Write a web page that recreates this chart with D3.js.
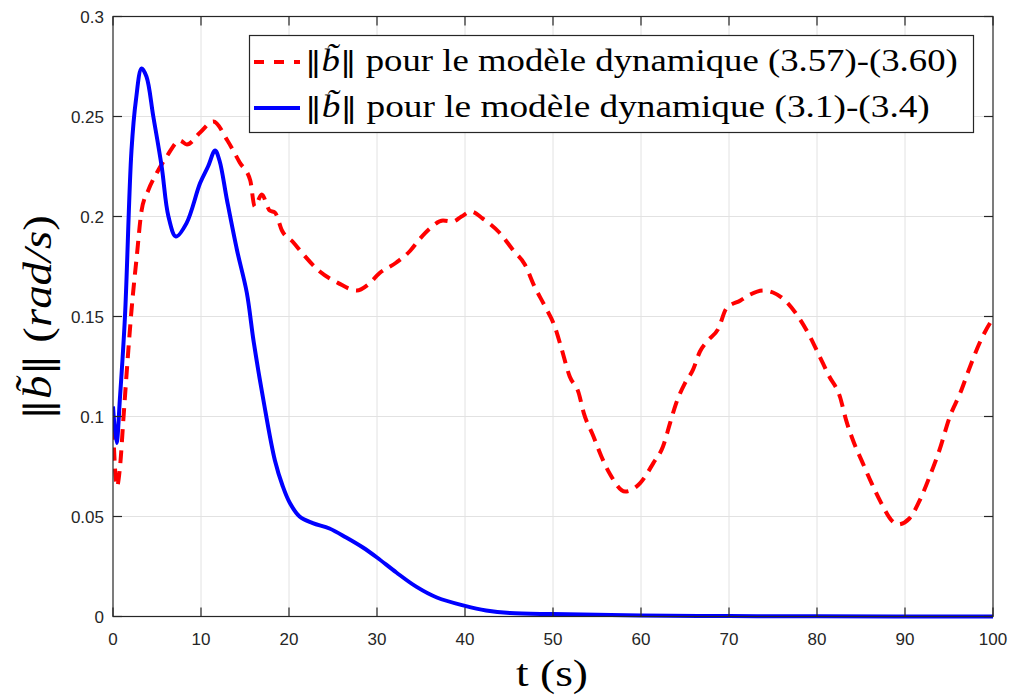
<!DOCTYPE html>
<html>
<head>
<meta charset="utf-8">
<script src="https://cdn.jsdelivr.net/npm/d3@7"></script>
<style>
  html, body { margin: 0; padding: 0; background: #fff; }
  svg { display: block; }
  .serif { font-family: "Liberation Serif"; }
  .bars { font-family: "DejaVu Serif"; }
</style>
</head>
<body>
<svg id="chart" width="1013" height="695"></svg>
<script>
// Error norm ||b~|| over time for the two dynamic models
const tRed = [0, 0.45, 0.8, 1.2, 1.74, 2.1, 2.7, 3.25, 4, 5, 6.1, 7.6, 8.4, 9.9, 11.4, 13, 14.4, 15.6, 16.1, 16.9, 17.8, 18.4, 19.2, 20.5, 21.5, 23.5, 25.6, 27.7, 29, 30.3, 32.2, 33.8, 34.9, 36, 37.5, 38.6, 39.6, 40.7, 42, 43.9, 45.5, 46.8, 47.9, 49.1, 50.2, 50.9, 51.9, 52.9, 53.5, 54.6, 55.5, 56.5, 58.2, 59.9, 61.4, 62.5, 63.3, 64, 65, 65.9, 66.7, 67.6, 68.8, 69.7, 71.3, 72.4, 73.9, 75, 76.5, 78, 79.2, 80.3, 81.4, 82.6, 83.3, 84.1, 85.2, 86.2, 87.3, 88.6, 89.2, 90.5, 91.7, 92.8, 93.9, 95.1, 96.3, 97.4, 98.5, 99.7, 100];
const bRed = [0.095, 0.065, 0.075, 0.1, 0.133, 0.153, 0.18, 0.203, 0.213, 0.222, 0.23, 0.238, 0.236, 0.242, 0.2475, 0.238, 0.227, 0.218, 0.205, 0.211, 0.203, 0.202, 0.193, 0.187, 0.1817, 0.1725, 0.1667, 0.163, 0.166, 0.1717, 0.177, 0.183, 0.189, 0.194, 0.198, 0.1975, 0.2, 0.2025, 0.199, 0.192, 0.183, 0.176, 0.165, 0.155, 0.145, 0.135, 0.12, 0.112, 0.1017, 0.09, 0.08, 0.071, 0.0625, 0.0667, 0.0767, 0.085, 0.0967, 0.1067, 0.1167, 0.1233, 0.1325, 0.138, 0.144, 0.154, 0.158, 0.161, 0.163, 0.162, 0.1575, 0.149, 0.14, 0.13, 0.12, 0.11, 0.0983, 0.088, 0.0767, 0.0667, 0.0567, 0.0475, 0.046, 0.049, 0.0583, 0.07, 0.083, 0.1, 0.112, 0.125, 0.137, 0.147, 0.149];

const tBlue = [0, 0.4, 0.8, 1.36, 2.1, 2.6, 3.25, 3.8, 4.58, 5.53, 6.3, 7.15, 8.36, 9.9, 10.8, 11.6, 12.1, 12.96, 14.1, 15.2, 16, 17.1, 18.4, 19.3, 20.1, 21.2, 22.7, 24.6, 26.5, 28.4, 30, 32.2, 34.5, 36.8, 40, 42.4, 45.1, 50, 55, 60, 70, 80, 100];
const bBlue = [0.105, 0.0868, 0.11, 0.15, 0.233, 0.258, 0.274, 0.27, 0.25, 0.225, 0.2, 0.19, 0.1967, 0.2167, 0.225, 0.233, 0.228, 0.208, 0.183, 0.162, 0.137, 0.108, 0.078, 0.065, 0.0567, 0.05, 0.0467, 0.044, 0.0395, 0.0345, 0.0295, 0.022, 0.0148, 0.0095, 0.0053, 0.003, 0.0017, 0.0012, 0.0009, 0.0005, 0.0002, 0.0001, 0];

const xTicks = [0, 10, 20, 30, 40, 50, 60, 70, 80, 90, 100];
const yTicks = [0, 0.05, 0.1, 0.15, 0.2, 0.25, 0.3];
const legendLabels = ["(3.57)-(3.60)", "(3.1)-(3.4)"];

const svg = d3.select("#chart");
const m = { left: 113, right: 993, top: 16.5, bottom: 616.5 };
const axisColor = "#262626";
const gridColor = "#e2e2e2";

const x = d3.scaleLinear().domain([0, 100]).range([m.left, m.right]);
const y = d3.scaleLinear().domain([0, 0.3]).range([m.bottom, m.top]);

// grid
const grid = svg.append("g");
grid.selectAll("line.gx").data(xTicks.slice(1, -1)).join("line")
  .attr("x1", d => x(d)).attr("x2", d => x(d))
  .attr("y1", m.top).attr("y2", m.bottom)
  .attr("stroke", gridColor).attr("stroke-width", 1);
grid.selectAll("line.gy").data(yTicks.slice(1, -1)).join("line")
  .attr("y1", d => y(d)).attr("y2", d => y(d))
  .attr("x1", m.left).attr("x2", m.right)
  .attr("stroke", gridColor).attr("stroke-width", 1);

// curves
svg.append("clipPath").attr("id", "plotClip").append("rect")
  .attr("x", m.left).attr("y", m.top).attr("width", m.right - m.left).attr("height", m.bottom - m.top + 3);

const redLine = d3.line().x(d => x(d[0])).y(d => y(d[1])).curve(d3.curveMonotoneX);
const blueLine = d3.line().x(d => x(d[0])).y(d => y(d[1])).curve(d3.curveCatmullRom.alpha(0.5));
const redData = tRed.map((t, i) => [t, bRed[i]]);
const blueData = tBlue.map((t, i) => [t, bBlue[i]]);

const plot = svg.append("g").attr("clip-path", "url(#plotClip)");
plot.append("path").datum(redData).attr("d", redLine)
  .attr("fill", "none").attr("stroke", "#ff0000").attr("stroke-width", 4)
  .attr("stroke-dasharray", "13,8");
plot.append("path").datum(blueData).attr("d", blueLine)
  .attr("fill", "none").attr("stroke", "#0000ff").attr("stroke-width", 4)
  .attr("stroke-linejoin", "round");

// axes (box with inward ticks on all four sides)
const tickLen = 9;
const axG = svg.append("g").attr("stroke", axisColor).attr("stroke-width", 1.2);
axG.append("rect").attr("x", m.left).attr("y", m.top)
  .attr("width", m.right - m.left).attr("height", m.bottom - m.top).attr("fill", "none");
xTicks.forEach(d => {
  axG.append("line").attr("x1", x(d)).attr("x2", x(d)).attr("y1", m.bottom).attr("y2", m.bottom - tickLen);
  axG.append("line").attr("x1", x(d)).attr("x2", x(d)).attr("y1", m.top).attr("y2", m.top + tickLen);
});
yTicks.forEach(d => {
  axG.append("line").attr("y1", y(d)).attr("y2", y(d)).attr("x1", m.left).attr("x2", m.left + tickLen);
  axG.append("line").attr("y1", y(d)).attr("y2", y(d)).attr("x1", m.right).attr("x2", m.right - tickLen);
});

const tickFont = "'Liberation Sans', Arial, sans-serif";
svg.append("g").selectAll("text").data(xTicks).join("text")
  .attr("x", d => x(d)).attr("y", 645)
  .attr("text-anchor", "middle").attr("font-family", tickFont).attr("font-size", 17)
  .attr("fill", axisColor).text(d => d);
svg.append("g").selectAll("text").data(yTicks).join("text")
  .attr("x", 104).attr("y", d => y(d) + 6)
  .attr("text-anchor", "end").attr("font-family", tickFont).attr("font-size", 17)
  .attr("fill", axisColor).text(d => d);

// Serif labels: drawn at natural width, then stretched horizontally to span `width`
function fitText(g, width) {
  const w = g.select("text").node().getComputedTextLength();
  g.select("text").attr("transform", `scale(${width / w},1)`);
}
function normB(sel, size) {
  sel.append("tspan").attr("class", "bars").attr("font-size", size * 0.9).text("\u2016");
  sel.append("tspan").attr("font-style", "italic").text("b\u0303");
  sel.append("tspan").attr("class", "bars").attr("font-size", size * 0.9).text("\u2016");
}

// x title
const xt = svg.append("g").attr("transform", "translate(516,686)");
xt.append("text").attr("class", "serif").attr("font-size", 38).attr("fill", "#000").text("t (s)");
fitText(xt, 72);

// y title
const ylSize = 41;
const yg = svg.append("g").attr("transform", "translate(51,420) rotate(-90)");
const yl = yg.append("text").attr("class", "serif").attr("font-size", ylSize).attr("fill", "#000");
normB(yl, ylSize);
yl.append("tspan").text(" (");
yl.append("tspan").attr("font-style", "italic").text("rad/s");
yl.append("tspan").text(")");
fitText(yg, 205);

// legend
const lg = svg.append("g");
lg.append("rect").attr("x", 249.5).attr("y", 35.5).attr("width", 724).attr("height", 97)
  .attr("fill", "#fff").attr("stroke", axisColor).attr("stroke-width", 1.2);

const lgSize = 31;
const legendRows = [
  { color: "#ff0000", dash: "10,10", label: legendLabels[0], yLine: 62, yText: 71, width: 653 },
  { color: "#0000ff", dash: null, label: legendLabels[1], yLine: 108, yText: 117, width: 625 }
];
legendRows.forEach(r => {
  lg.append("line").attr("x1", 254).attr("x2", 300).attr("y1", r.yLine).attr("y2", r.yLine)
    .attr("stroke", r.color).attr("stroke-width", 4)
    .attr("stroke-dasharray", r.dash);
  const g = lg.append("g").attr("transform", `translate(305,${r.yText})`);
  const t = g.append("text").attr("class", "serif").attr("font-size", lgSize).attr("fill", "#000");
  normB(t, lgSize);
  t.append("tspan").text(" pour le modèle dynamique " + r.label);
  fitText(g, r.width);
});
</script>
</body>
</html>
